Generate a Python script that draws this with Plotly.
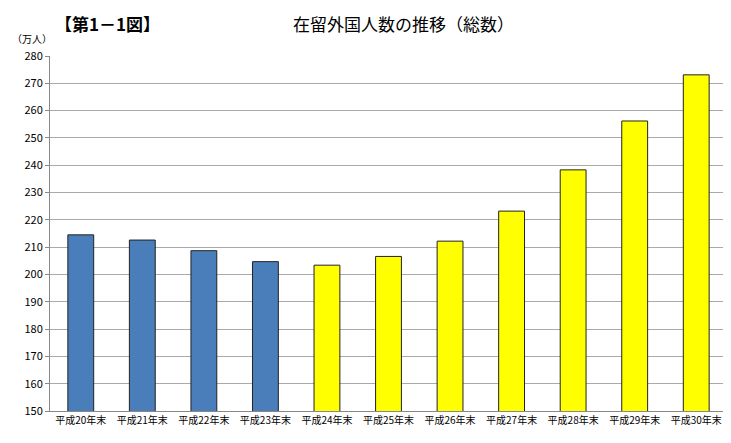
import plotly.graph_objects as go

categories = ["平成20年末","平成21年末","平成22年末","平成23年末","平成24年末","平成25年末",
              "平成26年末","平成27年末","平成28年末","平成29年末","平成30年末"]
values = [214.5, 212.6, 208.7, 204.7, 203.4, 206.6, 212.2, 223.2, 238.3, 256.2, 273.1]
colors = ["#4a7ebb"]*4 + ["#ffff00"]*7

F = "Noto Sans CJK JP"
L, R, T, B = 42, 12, 48, 40
W, H = 731, 443
pw = W-L-R; ph = H-T-B
def px(x): return (x-L)/pw
def py(y): return 1+(T-y)/ph

fig = go.Figure(go.Bar(x=categories, y=values, marker=dict(color=colors, line=dict(color="#222", width=1)),
                       width=0.42))
fig.update_layout(
    width=W, height=H, margin=dict(l=L, r=R, t=T, b=B),
    paper_bgcolor="white", plot_bgcolor="white", showlegend=False,
    font=dict(family=F, color="#000"),
    annotations=[
        dict(text="<b>【第1－1図】</b>", x=px(45), y=py(16), xref="paper", yref="paper", showarrow=False,
             font=dict(size=17, family=F), xanchor="left", yanchor="middle"),
        dict(text="在留外国人数の推移（総数）", x=px(395), y=py(16), xref="paper", yref="paper",
             showarrow=False, font=dict(size=17, family=F), yanchor="middle"),
        dict(text="（万人）", x=px(2), y=py(30), xref="paper", yref="paper", showarrow=False,
             font=dict(size=10, family=F), xanchor="left", yanchor="middle"),
    ],
)
fig.update_xaxes(showline=True, linecolor="#888", tickfont=dict(size=10), ticks="")
fig.update_yaxes(range=[150, 280], dtick=10, showgrid=True, gridcolor="#aaa", showline=True,
                 linecolor="#888", tickfont=dict(size=11), ticks="outside", ticklen=4, tickcolor="#888")
fig.write_html("out.html")
